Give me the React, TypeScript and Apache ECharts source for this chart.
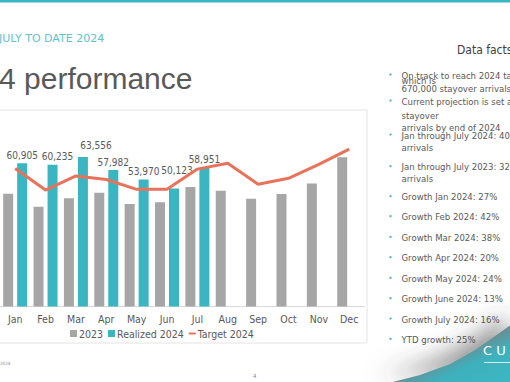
import React, { useEffect, useRef } from 'react';
import * as echarts from 'echarts';

const categories = ['Jan', 'Feb', 'Mar', 'Apr', 'May', 'Jun', 'Jul', 'Aug', 'Sep', 'Oct', 'Nov', 'Dec'];
const values2023 = [47957, 42419, 46055, 48318, 43524, 44357, 50820, 49200, 45800, 47800, 52300, 63400];
const realized2024 = [60905, 60235, 63556, 57982, 53970, 50123, 58951, null, null, null, null, null];
const target2024 = [58700, 49500, 55500, 54000, 49800, 49800, 58400, 60900, 52000, 54500, 60400, 66900];

const subtitle = 'JULY TO DATE 2024';
const title = '4 performance';
const factsTitle = 'Data facts';
const factBlocks: string[][] = [
  ['On track to reach 2024 target', 'which is', '670,000 stayover arrivals'],
  ['Current projection is set at', 'stayover', 'arrivals by end of 2024'],
  ['Jan through July 2024: 405,722', 'arrivals'],
  ['Jan through July 2023: 323,450', 'arrivals'],
  ['Growth Jan 2024: 27%'],
  ['Growth Feb 2024: 42%'],
  ['Growth Mar 2024: 38%'],
  ['Growth Apr 2024: 20%'],
  ['Growth May 2024: 24%'],
  ['Growth June 2024: 13%'],
  ['Growth July 2024: 16%'],
  ['YTD growth: 25%'],
];

const TEAL = '#3bb5c2';
const GRAY = '#a6a6a6';
const ORANGE = '#e8735a';
const TXT = '#595959';
const COND = "'DejaVu Sans Condensed', 'DejaVu Sans', sans-serif";

export default function App() {
  const ref = useRef<HTMLDivElement>(null);
  useEffect(() => {
    if (!ref.current) return;
    const chart = echarts.init(ref.current, null, { renderer: 'svg' });

    const lineYs = [
      [75, 80.7, 88.7],
      [101, 115.3, 127.3],
      [135, 147.3],
      [166.7, 178.3],
      [196.7], [216.7], [237.3], [257.7], [278.3], [298.7], [319], [339.3],
    ];
    const facts: any[] = [];
    factBlocks.forEach((block, bi) => {
      facts.push({
        type: 'rect',
        shape: { x: 389.5, y: lineYs[bi][0] - 1.5, width: 2, height: 2 },
        style: { fill: TEAL },
      });
      block.forEach((line, li) => {
        facts.push({
          type: 'text',
          x: 401.5,
          y: lineYs[bi][li],
          style: {
            text: line,
            fill: TXT,
            fontSize: 9.5,
            fontFamily: COND,
            verticalAlign: 'middle',
            align: 'left',
          },
        });
      });
    });

    const labelMoves: Record<number, { dx: number; dy: number }> = {
      1: { dx: 5, dy: 0 },
      2: { dx: 13, dy: -3 },
      5: { dx: 3, dy: -10 },
    };

    chart.setOption({
      animation: false,
      backgroundColor: '#ffffff',
      textStyle: { fontFamily: COND },
      grid: { left: -6.45, right: 145.6, top: 118.3, bottom: 75.5, containLabel: false },
      legend: {
        left: 70,
        top: 328,
        padding: 0,
        itemWidth: 7,
        itemHeight: 7,
        itemGap: 5,
        symbolKeepAspect: true,
        textStyle: { color: TXT, fontSize: 10.5, fontFamily: COND, padding: [0, 0, 0, -3] },
        data: [
          { name: '2023', icon: 'rect' },
          { name: 'Realized 2024', icon: 'rect' },
          { name: 'Target 2024', icon: 'path://M0,0H10V2.8H0Z' },
        ],
      },
      xAxis: {
        type: 'category',
        data: categories,
        axisLine: { lineStyle: { color: '#d9d9d9', width: 1 } },
        axisTick: { show: false },
        axisLabel: { color: TXT, fontSize: 10.5, fontFamily: COND, margin: 6.5 },
      },
      yAxis: {
        type: 'value',
        min: 0,
        max: 80000,
        show: false,
        splitLine: { show: false },
      },
      series: [
        {
          name: '2023',
          type: 'bar',
          data: values2023,
          barWidth: 10,
          barGap: '40%',
          itemStyle: { color: GRAY },
        },
        {
          name: 'Realized 2024',
          type: 'bar',
          data: realized2024,
          barWidth: 10,
          itemStyle: { color: TEAL },
          label: {
            show: true,
            position: 'top',
            distance: 3,
            offset: [1, 0],
            color: TXT,
            fontSize: 10,
            fontFamily: COND,
            formatter: (p: any) => Number(p.value).toLocaleString('en-US'),
          },
          labelLayout: (p: any) => labelMoves[p.dataIndex] || {},
        },
        {
          name: 'Target 2024',
          type: 'line',
          data: target2024,
          symbol: 'none',
          z: 5,
          lineStyle: { color: ORANGE, width: 3 },
          itemStyle: { color: ORANGE },
        },
      ],
      graphic: [
        { type: 'rect', shape: { x: 0, y: 0, width: 510, height: 2.5 }, style: { fill: TEAL } },
        {
          type: 'text', x: -1, y: 38,
          style: { text: subtitle, fill: '#5fc3cd', fontSize: 11, fontFamily: "'DejaVu Sans', sans-serif", verticalAlign: 'middle' },
        },
        {
          type: 'text', x: -1, y: 78.2,
          style: { text: title, fill: TXT, fontSize: 30, fontFamily: "'Liberation Sans', Arial, sans-serif", verticalAlign: 'middle' },
        },
        {
          type: 'rect', z: -1,
          shape: { x: -2, y: 110, width: 369, height: 233 },
          style: { fill: 'none', stroke: '#e4e4e4', lineWidth: 1 },
        },
        {
          type: 'text', x: 457, y: 50,
          style: { text: factsTitle, fill: '#404040', fontSize: 12, fontFamily: COND, verticalAlign: 'middle' },
        },
        ...facts,
        {
          type: 'text', x: 0, y: 363,
          style: { text: '2024', fill: '#888', fontSize: 4.5, fontFamily: COND, verticalAlign: 'middle' },
        },
        {
          type: 'text', x: 253, y: 375,
          style: { text: '4', fill: '#888', fontSize: 6, fontFamily: COND, verticalAlign: 'middle' },
        },
        {
          type: 'polygon',
          z: 10,
          shape: {
            points: [[385, 384], [420, 375], [450, 364], [475, 350], [495, 336], [512, 324], [512, 384]],
          },
          style: {
            fill: {
              type: 'linear', global: true, x: 445, y: 358, x2: 462, y2: 395,
              colorStops: [
                { offset: 0, color: '#6a8f95' },
                { offset: 0.4, color: '#3eb0bc' },
                { offset: 1, color: '#3bb6c2' },
              ],
            },
            shadowBlur: 22,
            shadowColor: 'rgba(60,60,60,0.55)',
            shadowOffsetX: -5,
            shadowOffsetY: -9,
          },
        },
        {
          type: 'text', x: 483, y: 350, z: 11,
          style: { text: 'C U', fill: '#ffffff', fontSize: 13, fontFamily: "'DejaVu Sans', sans-serif", verticalAlign: 'middle' },
        },
        {
          type: 'line', z: 11,
          shape: { x1: 484, y1: 362.5, x2: 512, y2: 362.5 },
          style: { stroke: '#ffffff', lineWidth: 0.8 },
        },
      ],
    });
    return () => chart.dispose();
  }, []);
  return (
    <div
      ref={ref}
      style={{ position: 'fixed', left: 0, top: 0, width: 510, height: 382, background: '#fff' }}
    />
  );
}
